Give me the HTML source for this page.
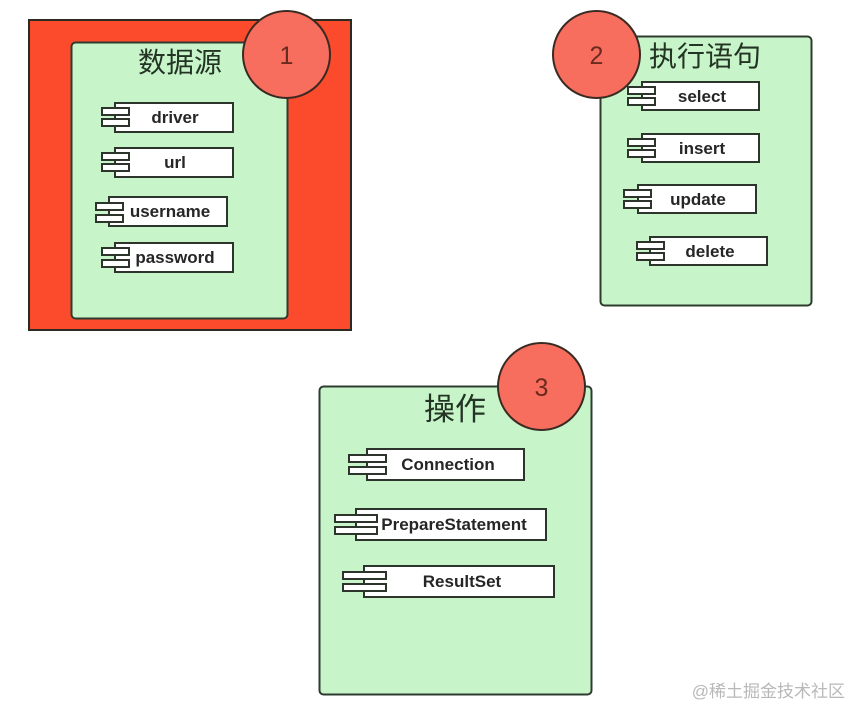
<!DOCTYPE html>
<html><head><meta charset="utf-8"><style>
html,body{margin:0;padding:0;background:#fff;}
svg{display:block;}
.lbl{font-family:"Liberation Sans","Noto Sans CJK SC",sans-serif;font-weight:bold;font-size:17px;fill:#262626;}
.ttl{font-family:"Liberation Sans","Noto Sans CJK SC",sans-serif;fill:#243424;}
.num{font-family:"Liberation Sans",sans-serif;font-size:25px;fill:#6b2a1e;}
</style></head><body>
<svg width="853" height="710" viewBox="0 0 853 710" xmlns="http://www.w3.org/2000/svg">
<rect x="0" y="0" width="853" height="710" fill="#fff"/>
<!-- Box 1 -->
<rect x="29" y="20" width="322" height="310" fill="#fc4a2c" stroke="#2a2a22" stroke-width="2"/>
<rect x="71.5" y="42.5" width="216" height="276" rx="4" fill="#c7f5c9" stroke="#2f3b2f" stroke-width="2"/>
<text class="ttl" x="180" y="72" font-size="28" text-anchor="middle">数据源</text>
<circle cx="286.5" cy="54.5" r="43.5" fill="#f86e5e" stroke="#3a2a22" stroke-width="2"/>
<text class="num" x="286.5" y="64" text-anchor="middle">1</text>

<g stroke="#2c342c" stroke-width="2" fill="#fff">
<rect x="115" y="103" width="118" height="29"/><rect x="102" y="108" width="27" height="7"/><rect x="102" y="119" width="27" height="7"/>
<rect x="115" y="148" width="118" height="29"/><rect x="102" y="153" width="27" height="7"/><rect x="102" y="164" width="27" height="7"/>
<rect x="109" y="197" width="118" height="29"/><rect x="96" y="203" width="27" height="7"/><rect x="96" y="215" width="27" height="7"/>
<rect x="115" y="243" width="118" height="29"/><rect x="102" y="248" width="27" height="7"/><rect x="102" y="260" width="27" height="7"/>
</g>
<text class="lbl" x="175" y="123" text-anchor="middle">driver</text>
<text class="lbl" x="175" y="168" text-anchor="middle">url</text>
<text class="lbl" x="170" y="217" text-anchor="middle">username</text>
<text class="lbl" x="175" y="263" text-anchor="middle">password</text>

<!-- Box 2 -->
<rect x="600.5" y="36.5" width="211" height="269" rx="4" fill="#c7f5c9" stroke="#2f3b2f" stroke-width="2"/>
<text class="ttl" x="705" y="66" font-size="28" text-anchor="middle">执行语句</text>
<circle cx="596.5" cy="54.5" r="43.5" fill="#f86e5e" stroke="#3a2a22" stroke-width="2"/>
<text class="num" x="596.5" y="64" text-anchor="middle">2</text>
<g stroke="#2c342c" stroke-width="2" fill="#fff">
<rect x="642" y="82" width="117" height="28"/><rect x="628" y="87" width="27" height="7"/><rect x="628" y="98" width="27" height="7"/>
<rect x="642" y="134" width="117" height="28"/><rect x="628" y="139" width="27" height="7"/><rect x="628" y="150" width="27" height="7"/>
<rect x="638" y="185" width="118" height="28"/><rect x="624" y="190" width="27" height="7"/><rect x="624" y="201" width="27" height="7"/>
<rect x="650" y="237" width="117" height="28"/><rect x="637" y="242" width="27" height="7"/><rect x="637" y="253" width="27" height="7"/>
</g>
<text class="lbl" x="702" y="102" text-anchor="middle">select</text>
<text class="lbl" x="702" y="154" text-anchor="middle">insert</text>
<text class="lbl" x="698" y="205" text-anchor="middle">update</text>
<text class="lbl" x="710" y="257" text-anchor="middle">delete</text>

<!-- Box 3 -->
<rect x="319.5" y="386.5" width="272" height="308" rx="4" fill="#c7f5c9" stroke="#2f3b2f" stroke-width="2"/>
<text class="ttl" x="455" y="420" font-size="31" text-anchor="middle">操作</text>
<circle cx="541.5" cy="386.5" r="43.5" fill="#f86e5e" stroke="#3a2a22" stroke-width="2"/>
<text class="num" x="541.5" y="396" text-anchor="middle">3</text>
<g stroke="#2c342c" stroke-width="2" fill="#fff">
<rect x="367" y="449" width="157" height="31"/><rect x="349" y="455" width="37" height="7"/><rect x="349" y="467" width="37" height="7"/>
<rect x="356" y="509" width="190" height="31"/><rect x="335" y="515" width="42" height="7"/><rect x="335" y="527" width="42" height="7"/>
<rect x="364" y="566" width="190" height="31"/><rect x="343" y="572" width="43" height="7"/><rect x="343" y="584" width="43" height="7"/>
</g>
<text class="lbl" x="448" y="470" text-anchor="middle">Connection</text>
<text class="lbl" x="454" y="530" text-anchor="middle">PrepareStatement</text>
<text class="lbl" x="462" y="587" text-anchor="middle">ResultSet</text>

<!-- watermark -->
<text x="845" y="697" text-anchor="end" font-family="'Liberation Sans','Noto Sans CJK SC',sans-serif" font-size="17" fill="#b8b8b8">@稀土掘金技术社区</text>
</svg>
</body></html>
